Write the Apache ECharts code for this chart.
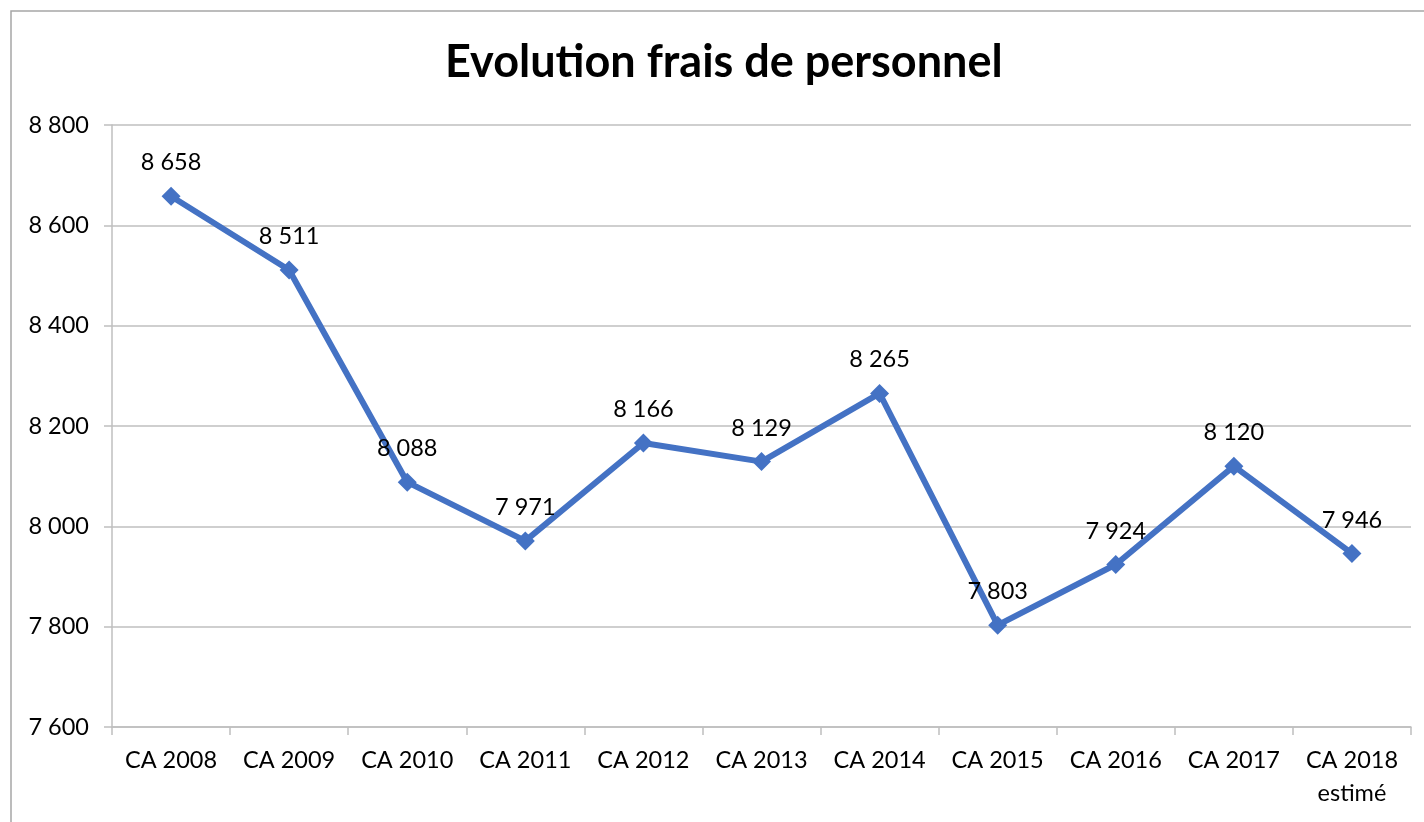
<!DOCTYPE html>
<html>
<head>
<meta charset="utf-8">
<script src="https://cdn.jsdelivr.net/npm/echarts@6/dist/echarts.min.js"></script>
<style>
  html, body { margin: 0; padding: 0; background: #fff; }
  #main { width: 1424px; height: 822px; }
</style>
</head>
<body>
<div id="main"></div>
<script>
var categories = ['CA 2008', 'CA 2009', 'CA 2010', 'CA 2011', 'CA 2012', 'CA 2013',
  'CA 2014', 'CA 2015', 'CA 2016', 'CA 2017', 'CA 2018\nestimé'];
var frais = [8658, 8511, 8088, 7971, 8166, 8129, 8265, 7803, 7924, 8120, 7946];

// espace comme séparateur de milliers
function fmt(v) {
  return String(v).replace(/\B(?=(\d{3})+(?!\d))/g, ' ');
}

var chart = echarts.init(document.getElementById('main'));
var option = {
  animation: false,
  backgroundColor: '#fff',
  textStyle: { fontFamily: 'Lato' },
  graphic: [{
    type: 'rect',
    shape: { x: 11, y: 11, width: 1430, height: 830 },
    style: { fill: 'none', stroke: '#a6a6a6', lineWidth: 1.5 },
    silent: true
  }],
  title: {
    text: 'Evolution frais de personnel',
    left: 440,
    top: 35,
    textStyle: { fontFamily: 'Lato', fontWeight: 'bold', fontSize: 45, color: '#000' }
  },
  grid: { left: 112, right: 13, top: 125, bottom: 95, containLabel: false },
  xAxis: {
    type: 'category',
    data: categories,
    boundaryGap: true,
    axisLine: { lineStyle: { color: '#bfbfbf', width: 1.5 } },
    axisTick: { show: true, length: 8, lineStyle: { color: '#bfbfbf', width: 1.5 } },
    axisLabel: { color: '#000', fontSize: 23.5, margin: 17, lineHeight: 33, interval: 0 }
  },
  yAxis: {
    type: 'value',
    min: 7600,
    max: 8800,
    interval: 200,
    axisLine: { show: true, lineStyle: { color: '#bfbfbf', width: 1.5 } },
    axisTick: { show: true, length: 8, lineStyle: { color: '#bfbfbf', width: 1.5 } },
    splitLine: { lineStyle: { color: '#bfbfbf', width: 1.5 } },
    axisLabel: { color: '#000', fontSize: 23.5, margin: 23, formatter: fmt }
  },
  series: [{
    type: 'line',
    data: frais,
    symbol: 'diamond',
    symbolSize: 19,
    lineStyle: { color: '#4472c4', width: 6 },
    itemStyle: { color: '#4472c4' },
    label: {
      show: true,
      position: 'top',
      distance: 12,
      color: '#000',
      fontSize: 23.5,
      formatter: function (p) { return fmt(p.value); }
    }
  }]
};
chart.setOption(option);
</script>
</body>
</html>
